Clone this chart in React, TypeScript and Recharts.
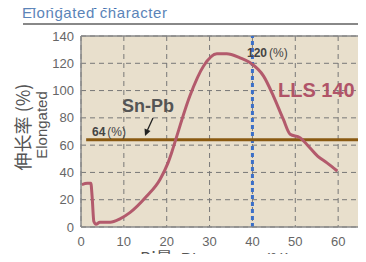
import { CartesianGrid, Line, LineChart, ReferenceLine, XAxis, YAxis } from 'recharts'

// Bi content (%) vs elongation (%) for LLS 140
const biContent = [
  0.2, 1.5, 2.3, 2.6, 3.0, 3.5, 4.4, 6.8, 9.1, 11.4, 15.3, 18.4, 20.3, 21.2, 21.9, 25.4, 28.6, 31.7,
  34, 37.1, 39.4, 42.6, 44.9, 47.2, 48.8, 51.1, 52.7, 55.2, 57.4, 59.8,
]
const elongation = [
  31, 32, 32, 22, 4, 2, 3.5, 3.5, 6, 10.5, 22.5, 34.7, 47, 55, 62, 96, 118, 127, 127, 124, 120.5,
  110.6, 96, 79, 68, 65.5, 60.5, 52, 47, 41,
]
const xTicks = [0, 10, 20, 30, 40, 50, 60]
const yTicks = [0, 20, 40, 60, 80, 100, 120, 140]
const snPb = 64
const markerBi = 40

const data = biContent.map((x, i) => ({ x, y: elongation[i] }))

const FONT = '"Liberation Sans", Arial, sans-serif'
const CJK = '"Noto Sans CJK SC", sans-serif'
const GRAY = '#555'
const tickStyle = { fontSize: 13, fill: '#666', fontFamily: FONT }

export default function App() {
  return (
    <div
      style={{
        position: 'relative',
        margin: -8,
        width: 366,
        height: 262,
        overflow: 'hidden',
        background: '#fff',
      }}
    >
      <div style={{ position: 'absolute', left: 0, top: 0 }}>
        <LineChart width={381} height={262} data={data} margin={{ top: 36, right: 0, left: 0, bottom: 0 }}>
          <CartesianGrid
            fill="#e8dfcc"
            stroke="#777"
            strokeDasharray="5 4"
            horizontalValues={yTicks}
            verticalValues={xTicks}
          />
          <XAxis
            type="number"
            dataKey="x"
            domain={[0, 70]}
            ticks={xTicks}
            tickLine={false}
            tickSize={0}
            tickMargin={10}
            height={35}
            axisLine={{ stroke: '#888', strokeWidth: 1.5 }}
            tick={tickStyle}
          />
          <YAxis
            type="number"
            domain={[0, 140]}
            ticks={yTicks}
            tickLine={false}
            tickSize={0}
            tickMargin={7}
            width={81}
            axisLine={{ stroke: '#888', strokeWidth: 1.5 }}
            tick={tickStyle}
          />
          <ReferenceLine y={140} stroke="#888" strokeWidth={1.5} />
          <ReferenceLine x={markerBi} stroke="#3b6fc8" strokeWidth={3} strokeDasharray="4 3" />
          <ReferenceLine
            segment={[
              { x: 1.2, y: snPb },
              { x: 70, y: snPb },
            ]}
            stroke="#8a5a12"
            strokeWidth={3}
          />
          <Line
            type="monotone"
            dataKey="y"
            stroke="#b35a6c"
            strokeWidth={3}
            dot={false}
            isAnimationActive={false}
          />
        </LineChart>
      </div>

      {/* heading, cut off at the top edge like the source */}
      <div
        style={{
          position: 'absolute',
          left: 22,
          top: -13,
          fontSize: 21,
          lineHeight: '21px',
          fontWeight: 700,
          color: '#3f6fb0',
          fontFamily: CJK,
          whiteSpace: 'nowrap',
        }}
      >
        ① 伸长特性
      </div>

      <svg
        width={366}
        height={262}
        style={{ position: 'absolute', left: 0, top: 0, pointerEvents: 'none' }}
        fontFamily={FONT}
      >
        <text x={22} y={18} fontSize={15} fill="#5b84b8" letterSpacing={0.6}>
          Elongated character
        </text>
        <line x1={23} y1={24} x2={366} y2={24} stroke="#888" strokeWidth={2} />

        {/* axis titles */}
        <text
          transform="translate(30,127) rotate(-90)"
          textAnchor="middle"
          fontSize={18}
          fill={GRAY}
          fontFamily={CJK}
        >
          伸长率 (%)
        </text>
        <text transform="translate(47,125) rotate(-90)" textAnchor="middle" fontSize={15} fill={GRAY}>
          Elongated
        </text>
        <text x={140} y={265} fontSize={17} fill={GRAY}>
          <tspan fontFamily={CJK}>Bi量</tspan>
          <tspan dx={8}>Bi content</tspan>
          <tspan dx={8}>(%)</tspan>
        </text>

        {/* annotations */}
        <text x={122} y={112} fontSize={18} fontWeight="bold" fill={GRAY}>
          Sn-Pb
        </text>
        <line x1={153} y1={118} x2={147.5} y2={130} stroke="#222" strokeWidth={1.3} />
        <polygon points="145,136 144.5,128.5 150.5,131" fill="#222" />
        <text x={92} y={136} fontSize={12} fill="#444">
          <tspan fontWeight="bold">64</tspan>
          <tspan dx={2}>(%)</tspan>
        </text>
        <text x={247} y={57} fontSize={12} fill="#444">
          <tspan fontWeight="bold">120</tspan>
          <tspan dx={2}>(%)</tspan>
        </text>
        <text x={278} y={97} fontSize={20} fontWeight="bold" fill="#b05468">
          LLS 140
        </text>
      </svg>
    </div>
  )
}
